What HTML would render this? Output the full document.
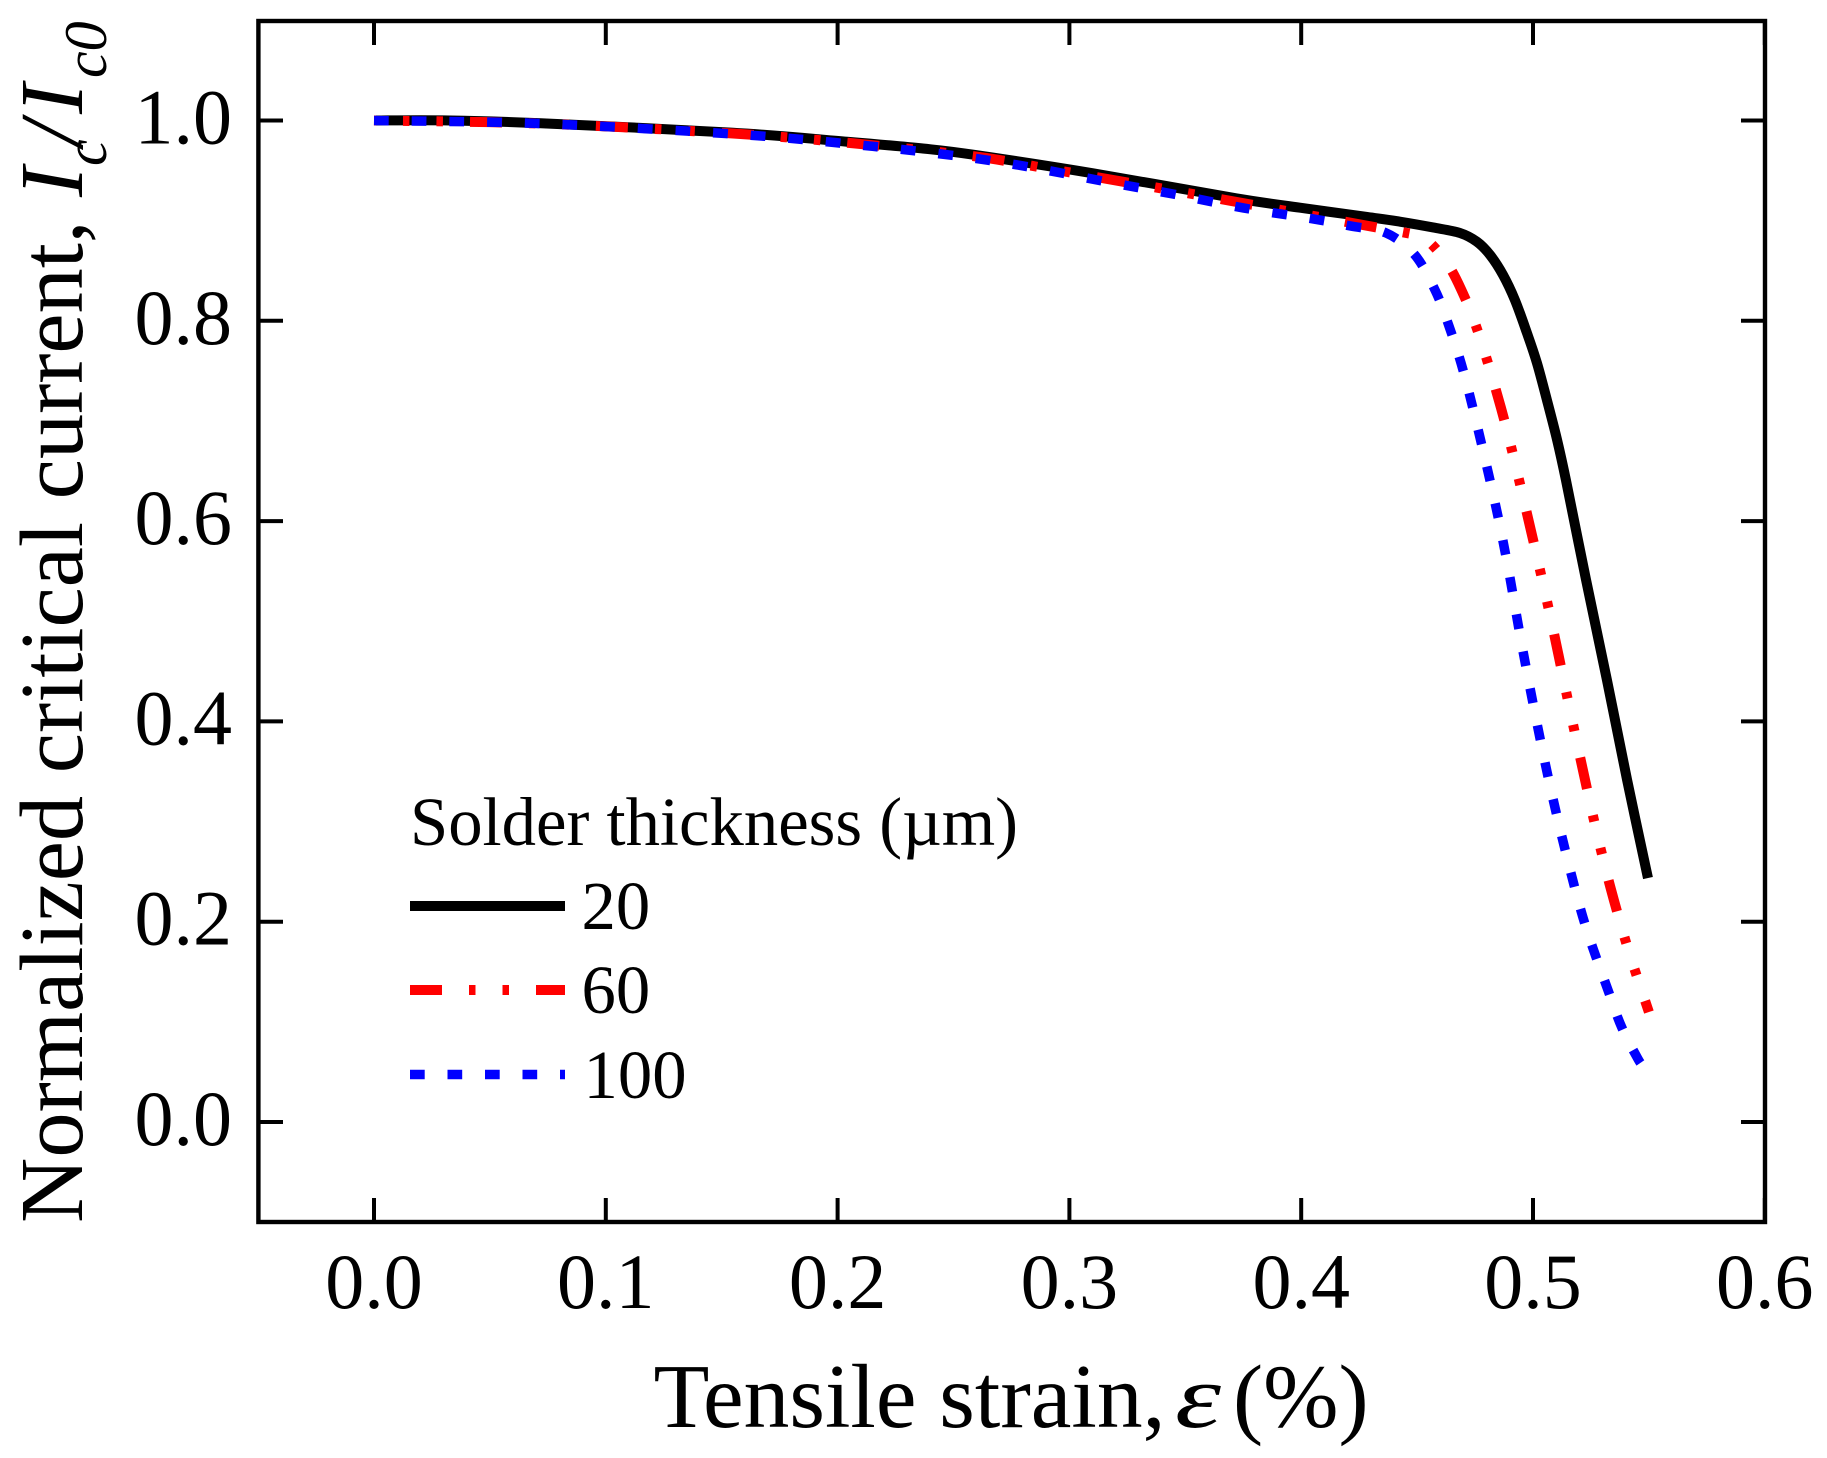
<!DOCTYPE html>
<html lang="en">
<head>
<meta charset="utf-8">
<title>Normalized critical current vs tensile strain</title>
<style>
html,body{margin:0;padding:0;background:#fff;width:1827px;height:1458px;overflow:hidden}
svg{display:block}
text{font-family:"Liberation Serif","Times New Roman",serif;fill:#000}
.it{font-style:italic}
</style>
</head>
<body>
<svg id="chart" xmlns="http://www.w3.org/2000/svg" width="1827" height="1458" viewBox="0 0 1827 1458">
  <rect x="0" y="0" width="1827" height="1458" fill="#fff"/>
  <g id="curves"></g>
  <g id="ticks"></g>
  <rect x="258.4" y="21" width="1506.6" height="1201" fill="none" stroke="#000" stroke-width="4.4"/>
  <g id="labels"></g>

  <g>
    <text x="653.5" y="1427" font-size="91.5">Tensile strain,</text>
    <text class="it" x="1175" y="1427" font-size="90.5" textLength="46" lengthAdjust="spacingAndGlyphs">ε</text>
    <text x="1233" y="1427" font-size="90.5">(%)</text>
  </g>

  <text transform="translate(82,1222) rotate(-90)" font-size="90.5"><tspan x="-1" y="0">Normalized critical current,</tspan><tspan class="it" x="1025" y="0">I</tspan><tspan class="it" x="1056" y="24" font-size="60">c</tspan><tspan class="it" x="1076" y="0">/</tspan><tspan class="it" x="1108" y="0">I</tspan><tspan class="it" x="1144" y="24" font-size="60">c0</tspan></text>

  <g>
    <text x="410" y="845" font-size="68.7">Solder thickness (µm)</text>
    <line x1="410" y1="906" x2="565" y2="906" stroke="#000" stroke-width="10"/>
    <text x="581.5" y="929" font-size="68.7">20</text>
    <line x1="410" y1="990" x2="565" y2="990" stroke="#f00" stroke-width="10" stroke-dasharray="32 27 6.5 27 6.5 27"/>
    <text x="581.5" y="1013" font-size="68.7">60</text>
    <line x1="410" y1="1074.5" x2="565" y2="1074.5" stroke="#00f" stroke-width="9.5" stroke-dasharray="14.7 22.8"/>
    <text x="583.5" y="1098" font-size="68.7">100</text>
  </g>
</svg>
<script>
const xTickValues = [0, 0.1, 0.2, 0.3, 0.4, 0.5, 0.6];
const xTickLabels = ["0.0", "0.1", "0.2", "0.3", "0.4", "0.5", "0.6"];
const yTickValues = [0, 0.2, 0.4, 0.6, 0.8, 1.0];
const yTickLabels = ["0.0", "0.2", "0.4", "0.6", "0.8", "1.0"];

const strain20 = [0, 0.0328, 0.0720, 0.1549, 0.2041, 0.2373, 0.2593, 0.3102, 0.3719, 0.3995, 0.4284, 0.4426, 0.4569, 0.4685, 0.4758, 0.4815, 0.4871, 0.4922, 0.4974, 0.5017, 0.5060, 0.5104, 0.5142, 0.5229, 0.5319, 0.5406, 0.5496];
const current20 = [1.000, 1.000, 0.9972, 0.9878, 0.9788, 0.9719, 0.9656, 0.9473, 0.9223, 0.9129, 0.9037, 0.8990, 0.8932, 0.8877, 0.8790, 0.8657, 0.8457, 0.8208, 0.7878, 0.7579, 0.7209, 0.6810, 0.6410, 0.5412, 0.4413, 0.3415, 0.2436];

const strain60 = [0, 0.0720, 0.1549, 0.2054, 0.2580, 0.2903, 0.3434, 0.3960, 0.4465, 0.4530, 0.4620, 0.4689, 0.4763, 0.4862, 0.4944, 0.5065, 0.5177, 0.5293, 0.5397, 0.5500];
const current60 = [1.000, 0.9969, 0.9870, 0.9775, 0.9646, 0.9521, 0.9306, 0.9086, 0.8872, 0.8832, 0.8607, 0.8318, 0.7888, 0.7129, 0.6370, 0.5152, 0.3924, 0.2716, 0.1827, 0.1098];

const strain100 = [0, 0.0720, 0.1549, 0.2054, 0.2515, 0.2826, 0.3141, 0.3447, 0.3753, 0.4055, 0.4215, 0.4366, 0.4487, 0.4573, 0.4633, 0.4711, 0.4823, 0.4888, 0.4944, 0.5004, 0.5069, 0.5142, 0.5224, 0.5328, 0.5384, 0.5453, 0.5475];
const current100 = [1.000, 0.9969, 0.9865, 0.9765, 0.9646, 0.9536, 0.9396, 0.9266, 0.9126, 0.9016, 0.8946, 0.8877, 0.8667, 0.8328, 0.7978, 0.7399, 0.6320, 0.5592, 0.4863, 0.4134, 0.3405, 0.2686, 0.1977, 0.1288, 0.0939, 0.0629, 0.0559];

const SVGNS = 'http://www.w3.org/2000/svg';
function xScale(v) { return 374 + v * 2318; }
function yScale(v) { return 1122 - v * 1001.5; }

function smoothPath(xs, ys) {
  const p = xs.map(function (x, i) { return [xScale(x), yScale(ys[i])]; });
  let d = 'M' + p[0][0].toFixed(2) + ' ' + p[0][1].toFixed(2);
  for (let i = 0; i < p.length - 1; i++) {
    const a = p[Math.max(i - 1, 0)], b = p[i], c = p[i + 1], e = p[Math.min(i + 2, p.length - 1)];
    const c1x = b[0] + (c[0] - a[0]) / 6, c1y = b[1] + (c[1] - a[1]) / 6;
    const c2x = c[0] - (e[0] - b[0]) / 6, c2y = c[1] - (e[1] - b[1]) / 6;
    d += 'C' + c1x.toFixed(2) + ' ' + c1y.toFixed(2) + ' ' + c2x.toFixed(2) + ' ' + c2y.toFixed(2) + ' ' + c[0].toFixed(2) + ' ' + c[1].toFixed(2);
  }
  return d;
}

const curves = document.getElementById('curves');
const ticks = document.getElementById('ticks');
const labels = document.getElementById('labels');

const curveBlack = document.createElementNS(SVGNS, 'path');


curveBlack.setAttribute('d', smoothPath(strain20, current20));
curveBlack.setAttribute('fill', 'none');
curveBlack.setAttribute('stroke', '#000');
curveBlack.setAttribute('stroke-width', '10');
curves.appendChild(curveBlack);

const curveRed = document.createElementNS(SVGNS, 'path');


curveRed.setAttribute('d', smoothPath(strain60, current60));
curveRed.setAttribute('fill', 'none');
curveRed.setAttribute('stroke', '#f00');
curveRed.setAttribute('stroke-width', '10');
curveRed.setAttribute('stroke-dasharray', '32 27 6.5 27 6.5 27');
curveRed.setAttribute('stroke-dashoffset', '30');
curves.appendChild(curveRed);

const curveBlue = document.createElementNS(SVGNS, 'path');


curveBlue.setAttribute('d', smoothPath(strain100, current100));
curveBlue.setAttribute('fill', 'none');
curveBlue.setAttribute('stroke', '#00f');
curveBlue.setAttribute('stroke-width', '9.5');
curveBlue.setAttribute('stroke-dasharray', '14.8 22.9');
curves.appendChild(curveBlue);

function tickLine(x1, y1, x2, y2) {
  const l = document.createElementNS(SVGNS, 'line');
  
  
  l.setAttribute('x1', x1);
  l.setAttribute('y1', y1);
  l.setAttribute('x2', x2);
  l.setAttribute('y2', y2);
  l.setAttribute('stroke', '#000');
  l.setAttribute('stroke-width', '4');
  ticks.appendChild(l);
}

xTickValues.forEach(function (v, i) {
  const x = xScale(v);
  tickLine(x, 1222, x, 1198);
  tickLine(x, 21, x, 45);
  const t = document.createElementNS(SVGNS, 'text');
  
  
  t.setAttribute('x', x);
  t.setAttribute('y', 1308);
  t.setAttribute('font-size', '78');
  t.setAttribute('text-anchor', 'middle');
  t.textContent = xTickLabels[i];
  labels.appendChild(t);
});

yTickValues.forEach(function (v, i) {
  const y = yScale(v);
  tickLine(258, y, 283, y);
  tickLine(1765, y, 1741, y);
  const t = document.createElementNS(SVGNS, 'text');
  
  
  t.setAttribute('x', 232);
  t.setAttribute('y', y + 23);
  t.setAttribute('font-size', '78');
  t.setAttribute('text-anchor', 'end');
  t.textContent = yTickLabels[i];
  labels.appendChild(t);
});
</script>
</body>
</html>
